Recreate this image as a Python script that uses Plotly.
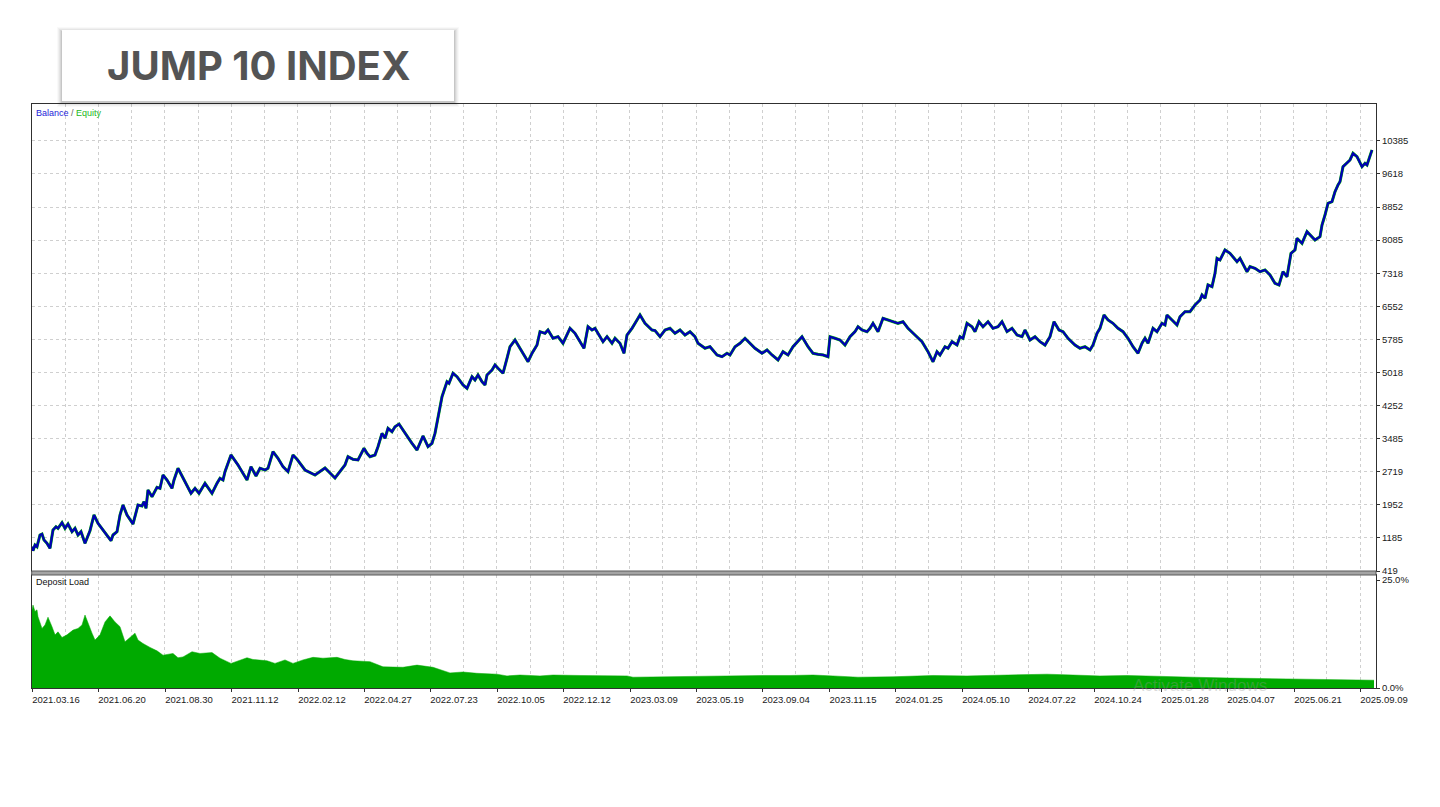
import plotly.graph_objects as go

# Баланс / эквити (по номеру сделки)
BAL_X = [0, 1, 3, 5, 8, 10, 12, 15, 18, 21, 24, 26, 30, 33, 36, 40, 43, 46, 49, 53, 58, 62, 66, 73, 79, 81, 85, 88, 91, 95,
         101, 106, 110, 112, 114, 116, 120, 125, 128, 131, 135, 140, 142, 146, 151, 159, 163, 167, 173, 180, 185, 188, 191, 193, 199,
         206, 215, 219, 224, 228, 233, 236, 241, 246, 251, 256, 261, 265, 273, 283, 293, 303, 313, 316, 321, 326, 332, 335, 338, 343,
         346, 350, 353, 356, 360, 363, 367, 375, 380, 385, 388, 391, 396, 400, 403, 406, 410, 415, 417, 421, 425, 431, 435, 440, 443,
         446, 450, 453, 455, 460, 463, 466, 471, 475, 478, 483, 490, 496, 500, 505, 508, 513, 516, 521, 526, 531, 538, 543, 552, 556,
         560, 563, 571, 575, 580, 583, 588, 592, 595, 600, 605, 608, 613, 620, 623, 628, 633, 638, 643, 648, 653, 658, 663, 666, 673,
         678, 685, 690, 695, 698, 703, 708, 713, 718, 723, 730, 735, 740, 746, 751, 756, 761, 766, 770, 776, 781, 786, 791, 796, 798,
         803, 808, 813, 818, 823, 826, 830, 835, 838, 841, 846, 851, 856, 861, 866, 871, 876, 883, 890, 896, 901, 905, 908, 913, 916,
         920, 925, 928, 931, 935, 940, 943, 947, 951, 956, 961, 966, 970, 975, 980, 985, 990, 993, 998, 1003, 1008, 1013, 1018, 1022,
         1027, 1031, 1036, 1043, 1048, 1053, 1058, 1061, 1065, 1068, 1072, 1076, 1081, 1086, 1091, 1096, 1101, 1106, 1110, 1113, 1116,
         1121, 1125, 1130, 1133, 1135, 1140, 1145, 1148, 1153, 1158, 1163, 1168, 1170, 1173, 1176, 1180, 1183, 1185, 1188, 1193, 1198,
         1205, 1208, 1215, 1218, 1223, 1228, 1233, 1238, 1243, 1247, 1251, 1255, 1259, 1263, 1265, 1270, 1275, 1280, 1283, 1288, 1290,
         1293, 1296, 1300, 1303, 1306, 1308, 1311, 1315, 1318, 1321, 1325, 1330, 1333, 1335, 1338, 1340]
BALANCE = [982, 889, 1021, 982, 1253, 1276, 1137, 1061, 945, 1369, 1445, 1408, 1538, 1408, 1508, 1330, 1408, 1253, 1330, 1061,
           1353, 1717, 1524, 1306, 1121, 1253, 1330, 1717, 1948, 1717, 1508, 1948, 1925, 2025, 1872, 2296, 2140, 2358, 2335, 2643,
           2527, 2335, 2527, 2799, 2567, 2219, 2335, 2219, 2451, 2219, 2451, 2567, 2527, 2720, 3107, 2875, 2527, 2836, 2620, 2799,
           2759, 2799, 3183, 3030, 2836, 2720, 3107, 3007, 2759, 2643, 2805, 2574, 2875, 3067, 3007, 2991, 3262, 3146, 3067, 3107,
           3299, 3609, 3494, 3725, 3647, 3762, 3825, 3531, 3378, 3222, 3378, 3547, 3299, 3378, 3609, 3994, 4457, 4805, 4768, 5000,
           4921, 4729, 4652, 4921, 4844, 4960, 4805, 4729, 4960, 5076, 5192, 5116, 5000, 5347, 5616, 5771, 5500, 5268, 5463, 5655,
           5964, 5926, 6003, 5811, 5848, 5695, 6042, 5926, 5579, 6079, 6003, 6042, 5732, 5848, 5695, 5811, 5695, 5463, 5887, 6042,
           6235, 6351, 6158, 6003, 5990, 5848, 6003, 6042, 5926, 6003, 5887, 5964, 5848, 5695, 5579, 5616, 5424, 5384, 5463, 5424,
           5616, 5695, 5811, 5695, 5579, 5463, 5540, 5424, 5308, 5500, 5424, 5616, 5732, 5848, 5616, 5463, 5440, 5424, 5384, 5848,
           5811, 5771, 5655, 5848, 5964, 6079, 6003, 5964, 6042, 6158, 5964, 6274, 6235, 6200, 6158, 6195, 6042, 5887, 5732, 5500,
           5268, 5500, 5424, 5616, 5579, 5732, 5655, 5848, 5811, 6158, 6079, 5964, 6195, 6079, 6195, 6042, 6079, 6195, 5964, 6042,
           5887, 5848, 6003, 5771, 5848, 5732, 5655, 5848, 6195, 6003, 5964, 5811, 5655, 5579, 5616, 5540, 5655, 5926, 6042, 6351,
           6235, 6158, 6042, 5964, 5811, 5616, 5463, 5695, 5811, 5695, 6042, 5964, 6158, 6119, 6351, 6235, 6119, 6311, 6427, 6427,
           6582, 6698, 6814, 6737, 7046, 7006, 7317, 7664, 7625, 7857, 7780, 7585, 7664, 7354, 7470, 7432, 7354, 7393, 7277, 7085,
           7046, 7354, 7238, 7780, 7857, 8128, 8012, 8281, 8165, 8088, 8165, 8436, 8667, 8939, 8976, 9207, 9362, 9439, 9787, 9865,
           9942, 10097, 10018, 9787, 9865, 9826, 10018, 10173]

# Загрузка депозита, %
DL_X = [0, 1, 3, 5, 6, 10, 13, 16, 20, 23, 26, 30, 35, 41, 46, 50, 53, 56, 60, 63, 68, 73, 78, 83, 88, 93, 98, 103, 106, 111,
        118, 125, 131, 141, 146, 151, 160, 168, 180, 188, 199, 208, 215, 221, 235, 243, 253, 261, 271, 281, 291, 305, 313, 321,
        338, 351, 371, 385, 401, 418, 431, 445, 465, 475, 488, 508, 521, 548, 568, 595, 601, 628, 648, 665, 701, 731, 758, 781,
        801, 826, 861, 881, 901, 935, 968, 998, 1015, 1041, 1068, 1095, 1121, 1135, 1161, 1198, 1258, 1291, 1342]
DEPOSIT_LOAD = [18.1, 19.2, 17.7, 18.1, 16.5, 13.8, 14.6, 16.4, 14.2, 12.3, 13.0, 11.7, 12.3, 13.4, 13.8, 14.6, 16.9, 15.0, 12.7,
                11.1, 12.3, 15.3, 16.7, 15.3, 14.2, 10.7, 11.7, 12.7, 11.1, 10.3, 9.4, 8.6, 7.6, 8.0, 7.0, 7.2, 8.4, 8.0, 8.2,
                6.9, 5.7, 6.5, 7.0, 6.6, 6.3, 5.7, 6.5, 5.7, 6.5, 7.1, 6.9, 7.1, 6.6, 6.3, 6.1, 4.9, 4.8, 5.3, 4.8, 3.5, 3.7,
                3.4, 3.2, 2.8, 3.0, 2.8, 3.0, 2.9, 2.8, 2.8, 2.5, 2.6, 2.5, 2.7, 2.8, 2.9, 2.9, 3.0, 2.8, 2.5, 2.6, 2.7, 2.9,
                2.8, 2.9, 3.1, 3.2, 3.0, 2.8, 2.9, 2.8, 2.6, 2.5, 2.3, 2.1, 1.9, 1.8]

# Подписи осей
DATE_POS = [0, 66, 133, 199, 266, 332, 398, 465, 531, 598, 664, 730, 797, 863, 930, 996, 1062, 1129, 1195, 1262, 1328]
DATE_LABELS = ['2021.03.16', '2021.06.20', '2021.08.30', '2021.11.12', '2022.02.12', '2022.04.27', '2022.07.23',
               '2022.10.05', '2022.12.12', '2023.03.09', '2023.05.19', '2023.09.04', '2023.11.15', '2024.01.25',
               '2024.05.10', '2024.07.22', '2024.10.24', '2025.01.28', '2025.04.07', '2025.06.21', '2025.09.09']
BAL_TICKS = [419, 1185, 1952, 2719, 3485, 4252, 5018, 5785, 6552, 7318, 8085, 8852, 9618, 10385]
LOAD_TICKS = [0, 25]
LOAD_LABELS = ['0.0%', '25.0%']

# страница html имеет отступ 8px, поэтому фигура чуть меньше окна
OFF = 8
W, H = 1440 - 2 * OFF, 807 - 2 * OFF


def px(p):
    return (p - OFF) / W


def py(p):
    return 1 - (p - OFF) / H


GRID = '#cfcfcf'
AXIS_FONT = dict(family='Liberation Sans, Arial, sans-serif', size=9.5, color='#1a1a1a')

fig = go.Figure()

# Эквити (под линией баланса)
fig.add_trace(go.Scatter(x=BAL_X, y=BALANCE, mode='lines', name='Equity',
                         line=dict(color='#00b400', width=3.0), xaxis='x', yaxis='y'))
# Баланс
fig.add_trace(go.Scatter(x=BAL_X, y=BALANCE, mode='lines', name='Balance',
                         line=dict(color='#0000b4', width=2.3), xaxis='x', yaxis='y'))
# Deposit Load
fig.add_trace(go.Scatter(x=DL_X, y=DEPOSIT_LOAD, mode='lines', name='Deposit Load', fill='tozeroy',
                         fillcolor='#00aa00', line=dict(color='#00aa00', width=0.5), xaxis='x2', yaxis='y2'))

x_range = [-0.3, 1344]
x_common = dict(range=x_range, showline=True, mirror=True, linecolor='#303030', linewidth=1,
                zeroline=False, showgrid=False, automargin=False,
                minor=dict(tick0=0, dtick=33.2, showgrid=True, gridcolor=GRID, griddash='3px,3px', gridwidth=1))

fig.update_layout(
    width=W, height=H,
    margin=dict(l=0, r=0, t=0, b=0, pad=0),
    paper_bgcolor='white', plot_bgcolor='white',
    showlegend=False,
    xaxis=dict(domain=[px(31.7), px(1376)], anchor='y', showticklabels=False, tickvals=DATE_POS, **x_common),
    xaxis2=dict(domain=[px(31.7), px(1376)], anchor='y2', tickvals=DATE_POS, ticktext=DATE_LABELS,
                ticks='outside', ticklen=3, tickcolor='#303030', ticklabelshift=24, tickfont=AXIS_FONT,
                **x_common),
    yaxis=dict(domain=[py(571), py(104)], anchor='x', side='right', range=[419, 11239], automargin=False,
               tickvals=BAL_TICKS, ticktext=[str(v) for v in BAL_TICKS], ticks='outside', ticklen=3,
               tickcolor='#303030', tickfont=AXIS_FONT, showgrid=True, gridcolor=GRID, griddash='3px,3px',
               showline=True, mirror=True, linecolor='#303030', linewidth=1, zeroline=False),
    yaxis2=dict(domain=[py(688), py(575)], anchor='x2', side='right', range=[0, 26.16], automargin=False,
                tickvals=LOAD_TICKS, ticktext=LOAD_LABELS, ticks='outside', ticklen=3, tickcolor='#303030',
                tickfont=AXIS_FONT, showgrid=False, showline=True, mirror=True, linecolor='#303030',
                linewidth=1, zeroline=False),
)

shapes = []
# Тень и рамка заголовка
for grow, alpha in [(5, 0.025), (4, 0.035), (3, 0.045), (2, 0.06), (1, 0.08)]:
    shapes.append(dict(type='rect', xref='paper', yref='paper',
                       x0=px(62 - grow), x1=px(454 + grow), y0=py(101 + grow + 1), y1=py(30 - grow + 2),
                       fillcolor=f'rgba(0,0,0,{alpha})', line=dict(width=0), layer='above'))
shapes.append(dict(type='rect', xref='paper', yref='paper', x0=px(62), x1=px(454), y0=py(101), y1=py(30),
                   fillcolor='white', line=dict(width=0), layer='above'))
# Разделитель панелей
shapes.append(dict(type='rect', xref='paper', yref='paper', x0=px(31.7), x1=px(1376), y0=py(575), y1=py(571),
                   fillcolor='#a4a4a4', line=dict(color='#5a5a5a', width=1), layer='above'))
fig.update_layout(shapes=shapes)

small = dict(family='Liberation Sans, Arial, sans-serif', size=9)
fig.add_annotation(x=px(258), y=py(66), xref='paper', yref='paper', showarrow=False,
                   text='<b>JUMP 10 INDEX</b>', xanchor='center', yanchor='middle',
                   font=dict(family='Inter, Roboto, sans-serif', size=40, color='#545454'))
fig.add_annotation(x=px(34), y=py(113), xref='paper', yref='paper', showarrow=False, xanchor='left',
                   yanchor='middle', font=small,
                   text='<span style="color:#2424d8">Balance</span>'
                        '<span style="color:#666"> / </span>'
                        '<span style="color:#22b822">Equity</span>')
fig.add_annotation(x=px(34), y=py(582), xref='paper', yref='paper', showarrow=False, xanchor='left',
                   yanchor='middle', text='Deposit Load', font=dict(color='#111', **small))
fig.add_annotation(x=px(1200), y=py(685), xref='paper', yref='paper', showarrow=False, xanchor='center',
                   yanchor='middle', text='Activate Windows',
                   font=dict(family='Liberation Sans, Arial, sans-serif', size=17, color='rgba(150,150,150,0.35)'))

fig.write_html("out.html")
